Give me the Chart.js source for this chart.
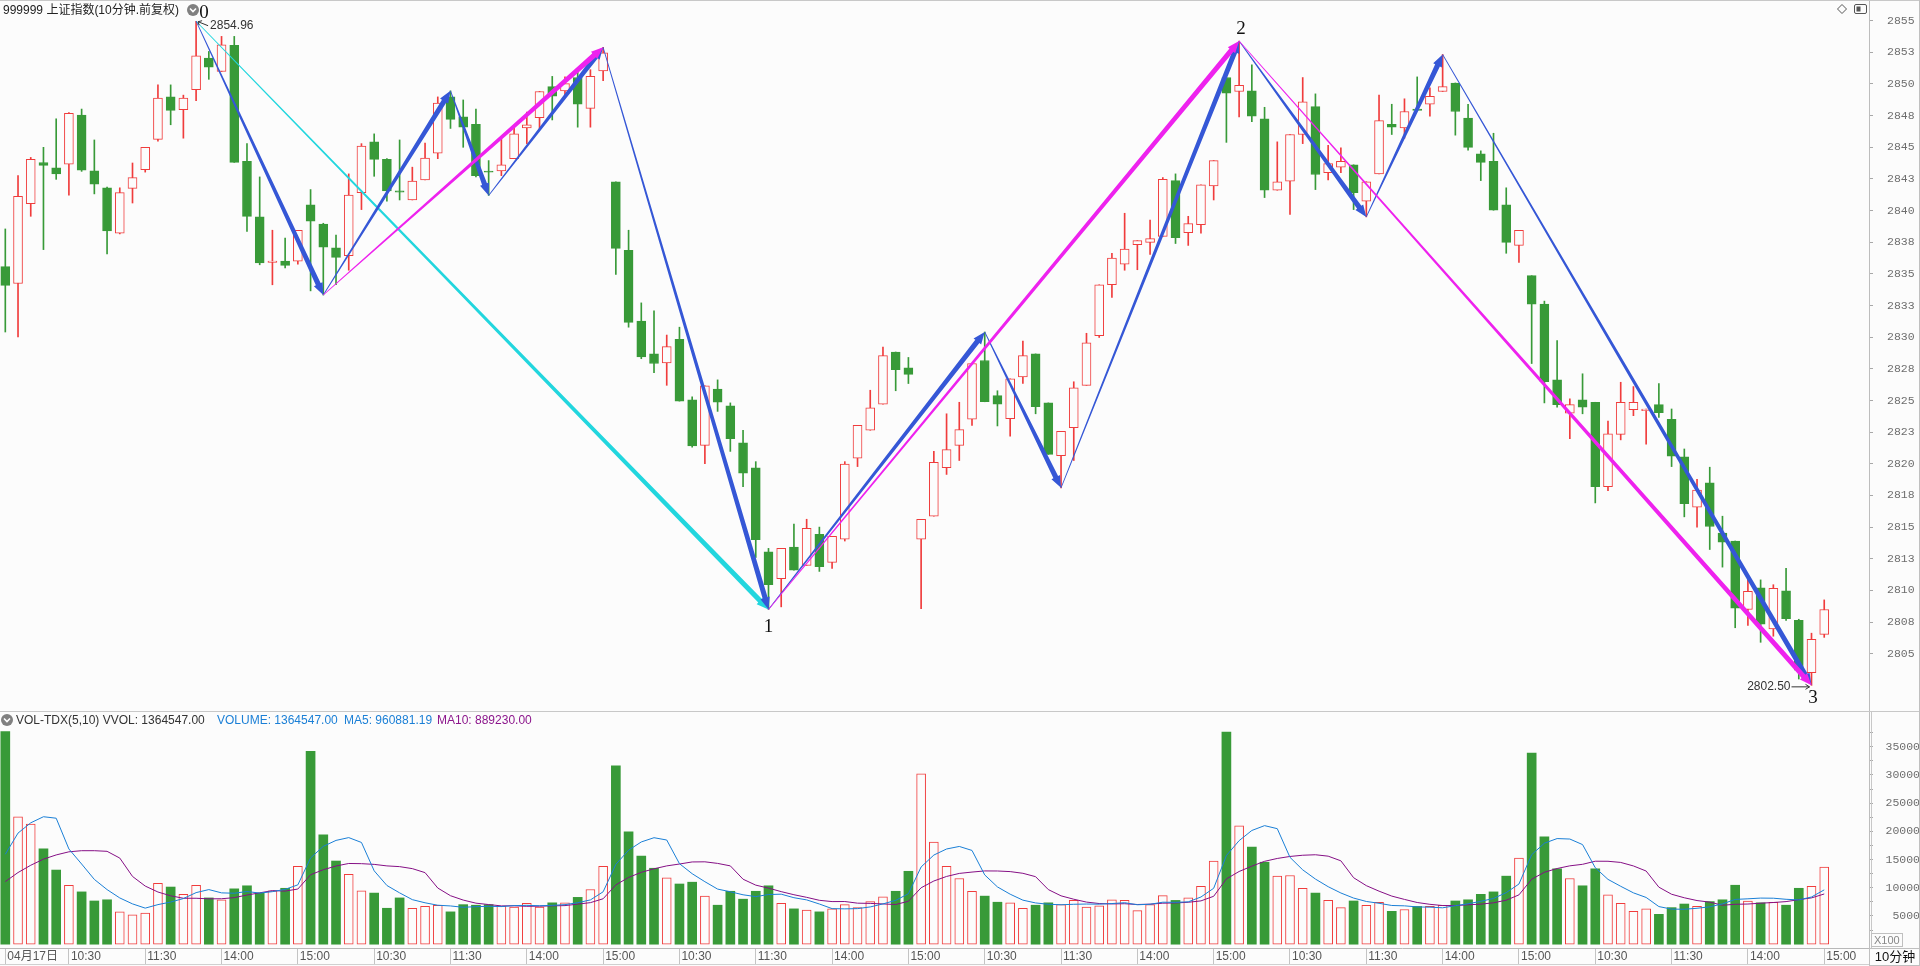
<!DOCTYPE html>
<html><head><meta charset="utf-8">
<script src="https://cdn.jsdelivr.net/npm/chart.js@4.4.0/dist/chart.umd.min.js"></script>
<style>
html,body{margin:0;padding:0;background:#fcfcfc;width:1920px;height:966px;overflow:hidden;position:relative;font-family:"Liberation Sans","Noto Sans CJK SC",sans-serif;}
canvas{position:absolute;left:0;}
#pc{top:0}
#vc{top:711px}
.t{position:absolute;font-size:12px;line-height:14px;white-space:nowrap;}
svg{position:absolute;left:0;top:0;}
</style></head><body>
<canvas id="pc" width="1920" height="711"></canvas>
<canvas id="vc" width="1920" height="255"></canvas>
<svg width="1920" height="966">
  <line x1="0" y1="0.5" x2="1920" y2="0.5" stroke="#c8c8c8"/>
  <line x1="0" y1="711.5" x2="1920" y2="711.5" stroke="#c8c8c8"/>
  <line x1="1919.5" y1="0" x2="1919.5" y2="966" stroke="#c0c0c0"/>
  <line x1="0" y1="964.5" x2="1869" y2="964.5" stroke="#d0d0d0"/>
  <line x1="1871.5" y1="712" x2="1871.5" y2="948" stroke="#c8c8c8"/>
  <circle cx="193" cy="10" r="6" fill="#808080"/>
  <polyline points="190,8.5 193,11.5 196,8.5" fill="none" stroke="#fff" stroke-width="1.6"/>
  <circle cx="7" cy="720" r="6" fill="#808080"/>
  <polyline points="4,718.5 7,721.5 10,718.5" fill="none" stroke="#fff" stroke-width="1.6"/>
  <polygon points="1842,4.5 1846.5,9 1842,13.5 1837.5,9" fill="none" stroke="#555"/>
  <rect x="1854.5" y="4.5" width="12" height="9" rx="1.5" fill="none" stroke="#555"/>
  <rect x="1856.5" y="6.5" width="4" height="5" fill="#555"/>
  <rect x="1871.5" y="933.5" width="31" height="13" fill="none" stroke="#c0c0c0"/>
  <rect x="1869.5" y="948.5" width="50" height="17" fill="none" stroke="#c0c0c0"/>
</svg>
<div class="t" style="left:3px;top:3px;color:#222">999999 上证指数(10分钟.前复权)</div>
<div class="t" style="left:16px;top:713px;color:#333">VOL-TDX(5,10) VVOL: 1364547.00</div>
<div class="t" style="left:217px;top:713px;color:#1a7fd6">VOLUME: 1364547.00</div>
<div class="t" style="left:344px;top:713px;color:#1a7fd6">MA5: 960881.19</div>
<div class="t" style="left:437px;top:713px;color:#8c168c">MA10: 889230.00</div>
<div class="t" style="left:1874px;top:933px;color:#888;font-size:11px">X100</div>
<div class="t" style="left:1870px;top:950px;width:50px;text-align:center;color:#111;font-size:13px">10分钟</div>
<script>
// ---------- DATA ----------
const opens = [2835.58,2834.24,2840.55,2843.80,2843.38,2843.67,2847.54,2843.14,2841.80,2838.21,
2841.75,2843.24,2845.63,2848.98,2847.97,2849.55,2852.04,2850.99,2853.05,2843.90,
2839.50,2835.91,2836.01,2836.01,2840.46,2838.93,2837.06,2836.44,2841.41,2845.44,
2844.05,2841.56,2840.84,2842.42,2844.53,2848.98,2847.40,2846.82,2843.09,2843.14,
2844.10,2846.54,2847.35,2849.79,2849.46,2850.51,2848.07,2851.04,2842.28,2836.87,
2831.27,2828.68,2827.97,2829.83,2825.05,2821.46,2825.91,2824.57,2821.65,2819.69,
2813.04,2810.93,2813.42,2811.98,2814.42,2812.22,2814.04,2820.45,2822.65,2824.71,
2828.83,2827.58,2814.04,2815.86,2819.69,2821.46,2823.52,2828.16,2825.38,2823.56,
2826.87,2828.68,2824.81,2820.65,2822.85,2826.20,2830.12,2834.14,2835.77,2837.30,
2837.49,2837.97,2842.37,2838.26,2838.88,2841.94,2850.51,2849.41,2849.46,2847.25,
2841.61,2842.33,2846.01,2848.21,2842.99,2843.43,2843.62,2840.74,2842.90,2846.82,
2846.54,2848.02,2848.40,2849.41,2850.08,2847.30,2844.48,2843.90,2840.46,2837.25,
2834.86,2832.61,2826.63,2823.99,2825.05,2824.86,2818.20,2822.32,2824.28,2824.19,
2824.67,2823.52,2820.55,2816.58,2818.49,2814.52,2813.90,2808.49,2810.21,2806.95,
2809.97,2807.63,2803.51,2806.53];
const highs = [2838.55,2842.76,2844.20,2845.00,2847.25,2847.75,2848.02,2845.58,2841.85,2841.80,
2843.76,2845.00,2849.93,2849.93,2849.12,2854.96,2852.57,2853.76,2853.76,2845.29,
2842.66,2838.45,2837.83,2838.45,2841.66,2839.00,2838.07,2842.90,2845.29,2846.06,
2844.10,2845.58,2843.43,2845.34,2848.98,2849.46,2848.74,2848.02,2843.95,2845.87,
2846.59,2847.78,2849.41,2850.60,2850.56,2850.99,2851.13,2852.90,2842.28,2838.45,
2832.71,2832.08,2830.17,2830.79,2825.29,2826.15,2826.63,2824.81,2822.65,2820.17,
2813.32,2813.32,2815.24,2815.62,2815.00,2814.28,2820.17,2823.04,2825.81,2829.21,
2828.83,2828.40,2815.62,2820.98,2823.95,2824.86,2827.92,2830.41,2825.77,2826.72,
2829.69,2828.68,2824.81,2822.56,2826.48,2830.31,2834.14,2836.63,2839.79,2837.63,
2839.26,2842.61,2842.90,2839.55,2842.04,2843.95,2850.51,2853.40,2851.51,2848.16,
2845.43,2846.01,2850.51,2849.22,2845.15,2844.96,2843.62,2842.28,2849.12,2848.40,
2848.83,2850.56,2849.70,2852.33,2850.08,2848.40,2844.72,2846.11,2841.80,2838.45,
2834.86,2832.85,2829.74,2825.14,2827.11,2824.86,2823.37,2826.44,2826.10,2824.33,
2826.34,2824.33,2821.17,2818.78,2819.73,2815.86,2813.90,2811.12,2810.83,2810.45,
2811.74,2807.72,2806.62,2809.25];
const lows = [2830.41,2830.03,2839.55,2836.92,2842.47,2841.22,2843.10,2841.32,2836.58,2838.16,
2840.60,2843.04,2845.48,2846.78,2845.72,2848.69,2850.37,2850.99,2843.81,2838.35,
2835.72,2834.14,2835.48,2835.77,2833.66,2833.33,2834.14,2835.29,2840.08,2842.71,
2840.74,2840.84,2840.84,2842.42,2844.10,2846.49,2845.00,2842.66,2841.20,2842.76,
2844.10,2845.29,2846.49,2847.16,2848.98,2846.59,2846.59,2850.27,2834.95,2830.79,
2828.30,2827.20,2826.20,2824.95,2821.31,2820.02,2824.14,2820.98,2818.20,2812.60,
2808.50,2808.70,2811.60,2811.98,2811.50,2811.74,2813.90,2819.78,2822.65,2824.71,
2825.77,2826.34,2808.56,2815.86,2819.16,2820.26,2823.04,2824.90,2822.99,2822.18,
2826.34,2823.95,2820.74,2818.10,2820.26,2826.20,2829.98,2833.14,2835.29,2835.33,
2836.53,2837.97,2837.40,2837.25,2838.21,2840.84,2845.39,2847.40,2847.02,2841.03,
2841.61,2839.69,2845.29,2841.66,2842.42,2842.99,2840.08,2839.50,2842.90,2846.01,
2845.72,2847.92,2847.45,2849.41,2845.96,2844.77,2842.37,2840.03,2836.63,2835.91,
2827.92,2824.81,2824.47,2821.98,2823.95,2816.91,2817.87,2821.89,2823.80,2821.55,
2823.66,2819.78,2815.81,2815.00,2813.23,2811.84,2807.05,2807.24,2805.90,2806.38,
2807.63,2803.00,2802.50,2806.29];
const closes = [2834.09,2841.13,2844.05,2843.57,2842.90,2847.69,2843.19,2842.09,2838.40,2841.42,
2842.61,2845.00,2848.88,2847.92,2848.88,2852.23,2851.32,2853.09,2843.81,2839.55,
2835.86,2836.01,2835.67,2838.45,2839.17,2837.11,2836.30,2841.22,2845.10,2844.05,
2841.56,2841.46,2842.33,2844.14,2848.50,2847.20,2846.59,2842.76,2843.04,2843.62,
2846.06,2846.78,2849.41,2849.03,2850.03,2848.40,2850.60,2852.47,2837.01,2831.17,
2828.45,2827.92,2829.26,2824.95,2821.41,2826.15,2824.86,2821.98,2819.26,2814.00,
2810.45,2813.32,2811.60,2814.90,2811.88,2814.28,2819.97,2823.04,2824.43,2828.54,
2827.44,2827.06,2815.62,2820.12,2821.12,2822.70,2827.92,2824.90,2824.71,2826.72,
2828.54,2824.52,2820.74,2822.56,2826.00,2829.55,2834.14,2836.25,2836.97,2837.63,
2837.78,2842.47,2837.87,2838.97,2842.04,2843.95,2849.27,2849.89,2847.45,2841.61,
2842.28,2846.01,2848.59,2842.85,2843.71,2843.90,2841.42,2842.28,2847.11,2846.59,
2847.83,2847.92,2849.03,2849.79,2847.83,2845.00,2843.81,2840.03,2837.49,2838.45,
2832.61,2826.48,2824.67,2824.67,2824.47,2818.20,2822.37,2824.86,2824.86,2824.33,
2824.04,2820.60,2816.86,2817.92,2815.05,2813.80,2808.59,2809.92,2807.34,2810.16,
2807.77,2803.70,2806.14,2808.49];
const volumes = [37700,22590,21300,16900,13140,10450,9270,7660,7870,5730,
5190,5510,10780,10130,8840,10450,8200,7870,9810,10350,
9060,9480,9910,13780,34190,19360,14740,12380,9480,9060,
6370,8200,6370,6690,6910,5730,7010,6910,7010,6690,
6580,7230,6580,7330,7330,8300,9700,13780,31610,19900,
15610,13460,11740,10670,10990,8520,6910,9380,7980,9380,
10350,7230,6260,6050,5730,6260,7010,6480,7550,8410,
9380,12920,30200,18080,13780,11640,9380,8520,7440,7330,
6370,6910,7330,7010,7760,6580,6800,7870,7760,5940,
7010,8620,7760,8200,10240,14740,37600,20970,17220,14530,
12060,12170,9910,9060,7760,6480,7660,6910,7440,5830,
6150,6690,6690,6910,7660,7870,8840,9270,12060,15280,
33860,19040,13360,11640,10350,13360,8730,7230,5830,6260,
5290,6480,7120,6690,7550,7870,10450,7660,7330,7440,
6910,9910,10240,13645];
// first moving-average values (window extends before the visible range)
const ma5Head = [15930,19690,21510,22590];
const ma10Head = [11090,12700,13990,15070,15820,16370,16570,16570,16460];

const priceTicks = [2805,2807.5,2810,2812.5,2815,2817.5,2820,2822.5,2825,2827.5,2830,2832.5,2835,2837.5,2840,2842.5,2845,2847.5,2850,2852.5,2855];
const priceTickLabels = ['2805','2808','2810','2813','2815','2818','2820','2823','2825','2828','2830','2833','2835','2838','2840','2843','2845','2848','2850','2853','2855'];
const volTicks = [2500,5000,7500,10000,12500,15000,17500,20000,22500,25000,27500,30000,32500,35000,37500];
const volTickLabels = ['','5000','','10000','','15000','','20000','','25000','','30000','','35000',''];
const timeTickIndex = [0,5,11,17,23,29,35,41,47,53,59,65,71,77,83,89,95,101,107,113,119,125,131,137,143];
const timeTickLabels = ['04月17日','10:30','11:30','14:00','15:00','10:30','11:30','14:00','15:00','10:30','11:30','14:00','15:00','10:30','11:30','14:00','15:00','10:30','11:30','14:00','15:00','10:30','11:30','14:00','15:00'];

// wave (zigzag) pivots: [bar index, price]
const bluePivots = [[15,2854.96],[25,2833.33],[35,2849.46],[38,2841.2],[47,2852.9],[60,2808.5],[77,2830.41],[83,2818.1],[97,2853.4],[107,2839.5],[113,2852.33],[142,2802.5]];
const magentaSegments = [[25,2833.33,47,2852.9],[60,2808.5,97,2853.4],[97,2853.4,142,2802.5]];
const cyanPivots = [[15,2854.96],[60,2808.5]];
const waveLabels = ['0','1','2','3'];
const waveLabelPoints = [[15,2854.96],[60,2808.5],[97,2853.4],[142,2802.5]];

// ---------- STYLE ----------
const UP = '#f03c3c', DOWN = '#389a38', BG = '#fcfcfc';
const BLUE = '#3557d6', MAGENTA = '#ee22ee', CYAN = '#22d6de';
const MA5C = '#1a7fd6', MA10C = '#850f85';
const X_MIN = -0.417, X_MAX = 146.52;

const isUp = closes.map((c, i) => c >= opens[i]);
function movingAvg(vals, n, head) {
  return vals.map((v, i) => {
    if (i < head.length) return head[i];
    let s = 0; for (let k = i - n + 1; k <= i; k++) s += vals[k];
    return s / n;
  });
}
const ma5 = movingAvg(volumes, 5, ma5Head);
const ma10 = movingAvg(volumes, 10, ma10Head);

function arrow(ctx, x0, y0, x1, y1, color) {
  const dx = x1 - x0, dy = y1 - y0, len = Math.hypot(dx, dy);
  const ux = dx / len, uy = dy / len, nx = -uy, ny = ux;
  const headLen = 12, headW = 4.8, w0 = 0.4, w1 = 2.6;
  const bx = x1 - ux * headLen, by = y1 - uy * headLen;
  ctx.beginPath();
  ctx.moveTo(x0 + nx * w0, y0 + ny * w0);
  ctx.lineTo(bx + nx * w1, by + ny * w1);
  ctx.lineTo(bx + nx * headW, by + ny * headW);
  ctx.lineTo(x1, y1);
  ctx.lineTo(bx - nx * headW, by - ny * headW);
  ctx.lineTo(bx - nx * w1, by - ny * w1);
  ctx.lineTo(x0 - nx * w0, y0 - ny * w0);
  ctx.closePath();
  ctx.fillStyle = color;
  ctx.fill();
}

const wavePlugin = {
  id: 'waves',
  afterDatasetsDraw(chart) {
    const ctx = chart.ctx, sx = chart.scales.x, sy = chart.scales.y;
    const px = i => sx.getPixelForValue(i), py = p => sy.getPixelForValue(p);
    ctx.save();
    for (let k = 0; k < cyanPivots.length - 1; k++)
      arrow(ctx, px(cyanPivots[k][0]), py(cyanPivots[k][1]), px(cyanPivots[k + 1][0]), py(cyanPivots[k + 1][1]), CYAN);
    for (let k = 0; k < bluePivots.length - 1; k++)
      arrow(ctx, px(bluePivots[k][0]), py(bluePivots[k][1]), px(bluePivots[k + 1][0]), py(bluePivots[k + 1][1]), BLUE);
    magentaSegments.forEach(s => arrow(ctx, px(s[0]), py(s[1]), px(s[2]), py(s[3]), MAGENTA));

    ctx.font = '19px "Liberation Serif", serif';
    ctx.fillStyle = '#111';
    ctx.textAlign = 'center';
    ctx.textBaseline = 'middle';
    const offs = [[8, -8], [0, 18], [2, -12], [1.5, 13]];
    waveLabelPoints.forEach((p, k) => ctx.fillText(waveLabels[k], px(p[0]) + offs[k][0], py(p[1]) + offs[k][1]));

    // highest / lowest annotations
    let hi = 0, lo = 0;
    highs.forEach((h, i) => { if (h > highs[hi]) hi = i; });
    lows.forEach((l, i) => { if (l < lows[lo]) lo = i; });
    const hx = px(hi), hy = py(highs[hi]);
    const lx = px(lo), ly = py(lows[lo]);
    ctx.strokeStyle = '#333'; ctx.lineWidth = 1;
    ctx.beginPath();
    ctx.moveTo(hx + 12, hy + 4.5); ctx.lineTo(hx + 2, hy + 0.5);
    ctx.moveTo(hx + 2, hy + 0.5); ctx.lineTo(hx + 3, hy + 4);
    ctx.moveTo(hx + 2, hy + 0.5); ctx.lineTo(hx + 6, hy - 0.5);
    ctx.moveTo(lx - 20, ly + 1.5); ctx.lineTo(lx - 2, ly + 1.5);
    ctx.moveTo(lx - 2, ly + 1.5); ctx.lineTo(lx - 6, ly - 1);
    ctx.moveTo(lx - 2, ly + 1.5); ctx.lineTo(lx - 6, ly + 4);
    ctx.stroke();
    ctx.font = '12px "Liberation Sans", sans-serif';
    ctx.fillStyle = '#333';
    ctx.textAlign = 'left';
    ctx.fillText(highs[hi].toFixed(2), hx + 14, hy + 4.5);
    ctx.textAlign = 'right';
    ctx.fillText(lows[lo].toFixed(2), lx - 21, ly + 1.6);
    ctx.restore();
  }
};

Chart.defaults.font.family = '"Liberation Sans","Noto Sans CJK SC",sans-serif';
Chart.defaults.animation = false;

new Chart(document.getElementById('pc'), {
  type: 'bar',
  data: {
    datasets: [
      {
        label: 'body',
        data: opens.map((o, i) => ({ x: i, y: [Math.min(o, closes[i]), Math.max(o, closes[i])] })),
        backgroundColor: isUp.map(u => u ? BG : DOWN),
        borderColor: isUp.map(u => u ? UP : DOWN),
        borderWidth: 1, borderSkipped: false, barThickness: 9, minBarLength: 1,
        grouped: false, order: 1
      },
      {
        label: 'wick',
        data: lows.map((l, i) => ({ x: i, y: [l, highs[i]] })),
        backgroundColor: isUp.map(u => u ? UP : DOWN),
        borderWidth: 0, barThickness: 1, minBarLength: 1,
        grouped: false, order: 2
      }
    ]
  },
  options: {
    responsive: false, animation: false, devicePixelRatio: 1,
    layout: { padding: 0 },
    plugins: { legend: { display: false }, tooltip: { enabled: false } },
    scales: {
      x: { type: 'linear', display: false, min: X_MIN, max: X_MAX, offset: false, grid: { offset: false } },
      y: {
        type: 'linear', position: 'right', min: 2800.474, max: 2856.635, beginAtZero: false,
        afterBuildTicks: s => { s.ticks = priceTicks.map(v => ({ value: v })); },
        afterFit: s => { s.width = 51; s.paddingTop = 0; s.paddingBottom = 0; },
        grid: { drawOnChartArea: false, drawTicks: true, tickLength: 4, color: '#a8a8a8' },
        border: { display: true, color: '#bdbdbd' },
        ticks: {
          autoSkip: false, padding: 14, color: '#6e6e6e',
          font: { family: '"Liberation Mono", monospace', size: 11.5 },
          callback: v => { const k = priceTicks.indexOf(v); return k >= 0 ? priceTickLabels[k] : ''; }
        }
      }
    }
  },
  plugins: [wavePlugin]
});

new Chart(document.getElementById('vc'), {
  type: 'bar',
  data: {
    datasets: [
      {
        type: 'line', label: 'MA5', data: ma5.map((v, i) => ({ x: i, y: v })),
        borderColor: MA5C, borderWidth: 1, pointRadius: 0, tension: 0, order: 0
      },
      {
        type: 'line', label: 'MA10', data: ma10.map((v, i) => ({ x: i, y: v })),
        borderColor: MA10C, borderWidth: 1, pointRadius: 0, tension: 0, order: 0
      },
      {
        type: 'bar', label: 'VOLUME', data: volumes.map((v, i) => ({ x: i, y: v })),
        backgroundColor: isUp.map(u => u ? BG : DOWN),
        borderColor: isUp.map(u => u ? UP : DOWN),
        borderWidth: isUp.map(u => u ? 1 : 0), borderSkipped: false,
        barThickness: 9, grouped: false, order: 1
      }
    ]
  },
  options: {
    responsive: false, animation: false, devicePixelRatio: 1,
    layout: { padding: { top: 1 } },
    plugins: { legend: { display: false }, tooltip: { enabled: false } },
    scales: {
      x: {
        type: 'linear', position: 'bottom', min: X_MIN, max: X_MAX, offset: false,
        afterBuildTicks: s => { s.ticks = timeTickIndex.map(v => ({ value: v })); },
        afterFit: s => { s.height = 18; s.paddingLeft = 0; s.paddingRight = 0; },
        grid: { drawOnChartArea: false, drawTicks: true, tickLength: 17, color: '#c4c4c4', offset: false },
        border: { display: true, color: '#b8b8b8' },
        ticks: {
          autoSkip: false, maxRotation: 0, minRotation: 0, align: 'start', padding: -15.5, labelOffset: 2,
          color: '#555', font: { size: 12 },
          callback: v => { const k = timeTickIndex.indexOf(v); return k >= 0 ? timeTickLabels[k] : ''; }
        }
      },
      y: {
        type: 'linear', position: 'right', min: -673, max: 41149, beginAtZero: false,
        afterBuildTicks: s => { s.ticks = volTicks.map(v => ({ value: v })); },
        afterFit: s => { s.width = 51; s.paddingTop = 0; s.paddingBottom = 0; },
        grid: { drawOnChartArea: false, drawTicks: true, tickLength: 4, color: '#a8a8a8' },
        border: { display: true, color: '#bdbdbd' },
        ticks: {
          autoSkip: false, padding: 7, crossAlign: 'far', color: '#6e6e6e',
          font: { family: '"Liberation Mono", monospace', size: 11.5 },
          callback: v => { const k = volTicks.indexOf(v); return k >= 0 ? volTickLabels[k] : ''; }
        }
      }
    }
  }
});
</script>
</body></html>
